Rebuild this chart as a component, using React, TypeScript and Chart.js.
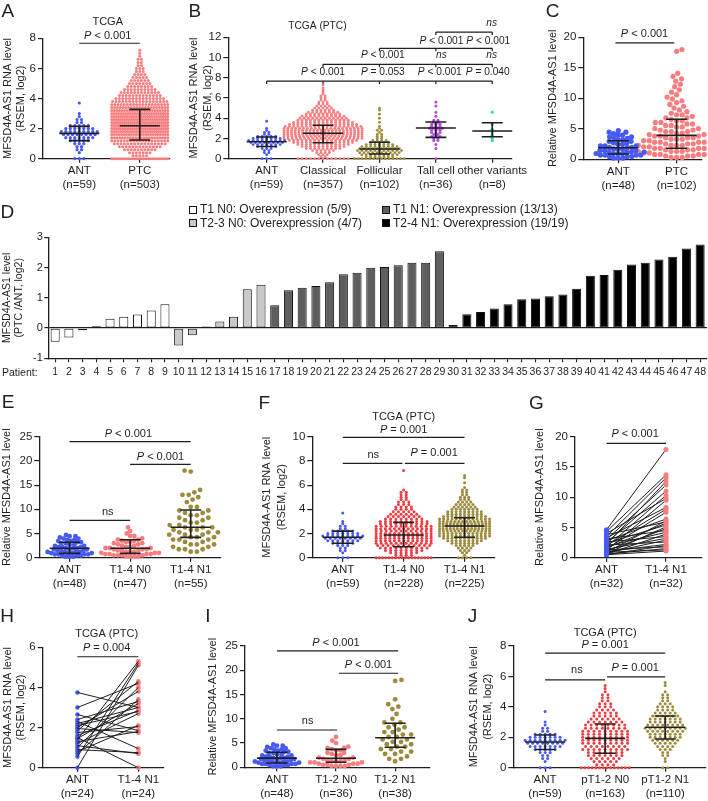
import React, { useEffect, useRef } from 'react';
import { Chart, registerables } from 'chart.js';

Chart.register(...registerables);

const FONT = "'Liberation Sans', Arial, Helvetica, sans-serif";
const NARROW_FONT = "'Liberation Sans Narrow', 'Arial Narrow', 'Liberation Sans', Arial, sans-serif";
const INK = '#1e1e1e';
Chart.defaults.font.family = FONT;
Chart.defaults.color = INK;

const BLUE = '#4659f3';
const SALMON = '#f77d7f';
const RED = '#ee3c42';
const OLIVE = '#9c8b3c';
const PURPLE = '#b24ae0';
const TEAL = '#3ed9a2';

type Bin = [number, number];

// ---------- value bins [value, count] ----------
const tcgaAntBins: Bin[] = [[0, 3], [0.4, 1], [0.6, 2], [0.8, 2], [1.0, 3], [1.2, 5], [1.4, 7], [1.6, 8], [1.8, 9], [2.0, 7], [2.2, 5], [2.4, 2], [2.6, 2], [2.8, 1], [3.0, 1], [3.7, 1]];
const aPtcBins: Bin[] = [[0, 24], [0.2, 5], [0.4, 7], [0.6, 10], [0.8, 13], [1.0, 16], [1.2, 19], [1.4, 22], [1.6, 24], [1.8, 26], [2.0, 28], [2.2, 28], [2.4, 28], [2.6, 27], [2.8, 26], [3.0, 25], [3.2, 23], [3.4, 21], [3.6, 19], [3.8, 17], [4.0, 15], [4.2, 13], [4.4, 12], [4.6, 10], [4.8, 8], [5.0, 7], [5.2, 6], [5.4, 5], [5.6, 4], [5.8, 3], [6.0, 3], [6.2, 2], [6.4, 2], [6.6, 2], [6.8, 1], [7.0, 1], [7.2, 1]];
const bClassicalBins: Bin[] = [[0, 13], [0.2, 2], [0.4, 3], [0.6, 4], [0.8, 6], [1.0, 9], [1.2, 11], [1.4, 13], [1.6, 15], [1.8, 17], [2.0, 20], [2.2, 21], [2.4, 22], [2.6, 22], [2.8, 22], [3.0, 21], [3.2, 19], [3.4, 17], [3.6, 15], [3.8, 13], [4.0, 12], [4.2, 11], [4.4, 9], [4.6, 8], [4.8, 6], [5.0, 5], [5.2, 4], [5.4, 3], [5.6, 3], [5.8, 2], [6.0, 2], [6.2, 2], [6.4, 1], [6.6, 1], [6.8, 1], [7.0, 1], [7.3, 1]];
const bFollicularBins: Bin[] = [[0, 14], [0.2, 7], [0.4, 9], [0.6, 10], [0.8, 11], [1.0, 10], [1.2, 9], [1.4, 7], [1.6, 5], [1.8, 4], [2.0, 2], [2.2, 2], [2.4, 2], [2.6, 1], [2.8, 2], [3.0, 1], [3.2, 1], [3.6, 1], [4.0, 1], [4.4, 1], [4.8, 1], [5.0, 1]];
const bTallBins: Bin[] = [[0, 1], [1.0, 1], [1.4, 1], [1.8, 2], [2.0, 2], [2.2, 3], [2.4, 2], [2.6, 3], [2.8, 3], [3.0, 4], [3.2, 3], [3.4, 3], [3.6, 2], [3.8, 2], [4.2, 1], [4.6, 1], [5.2, 1], [5.6, 1]];
const bOtherValues: number[] = [4.6, 3.4, 2.9, 2.8, 2.6, 2.3, 2.0, 1.8];
const qpcrAntBins: Bin[] = [[0.2, 3], [0.45, 3], [0.7, 4], [0.95, 4], [1.2, 4], [1.45, 3], [1.7, 3], [1.95, 3], [2.2, 3], [2.45, 2], [2.7, 2], [2.95, 2], [3.2, 2], [3.45, 2], [3.7, 2], [3.95, 2], [4.2, 1], [4.45, 2], [4.7, 1]];
const cPtcBins: Bin[] = [[0.3, 3], [0.55, 3], [0.8, 4], [1.05, 4], [1.3, 4], [1.55, 4], [1.8, 4], [2.05, 4], [2.3, 4], [2.55, 3], [2.8, 4], [3.05, 3], [3.3, 3], [3.55, 3], [3.8, 3], [4.05, 3], [4.3, 2], [4.55, 3], [4.8, 2], [5.05, 2], [5.3, 2], [5.55, 2], [5.8, 2], [6.05, 2], [6.3, 2], [6.55, 1], [6.8, 2], [7.05, 1], [7.3, 2], [7.55, 1], [7.8, 1], [8.1, 1], [8.4, 1], [8.7, 1], [9.0, 1], [9.3, 1], [9.6, 1], [9.9, 1], [10.2, 1], [10.6, 1], [11.0, 1], [11.4, 1], [11.9, 1], [12.3, 1], [12.8, 1], [13.2, 1], [13.6, 1], [14.1, 1], [17.7, 1], [18.0, 1]];
const eN0Bins: Bin[] = [[0.25, 4], [0.5, 4], [0.75, 4], [1.0, 3], [1.25, 3], [1.5, 3], [1.75, 3], [2.0, 3], [2.25, 2], [2.5, 2], [2.75, 2], [3.0, 2], [3.25, 2], [3.5, 2], [3.75, 2], [4.0, 1], [4.5, 2], [5.0, 1], [5.5, 1], [6.25, 1]];
const eN1Bins: Bin[] = [[1.25, 2], [1.75, 3], [2.25, 2], [2.75, 3], [3.25, 2], [3.75, 3], [4.25, 3], [4.75, 3], [5.25, 3], [5.75, 3], [6.25, 3], [6.75, 2], [7.25, 2], [7.75, 2], [8.25, 2], [8.75, 2], [9.25, 2], [9.75, 2], [10.5, 2], [11.5, 1], [12.0, 1], [12.5, 1], [13.0, 2], [13.5, 1], [14.0, 1], [17.8, 1], [18.0, 1]];
const fN0Bins: Bin[] = [[0, 18], [0.2, 4], [0.4, 6], [0.6, 8], [0.8, 10], [1.0, 11], [1.2, 12], [1.4, 13], [1.6, 13], [1.8, 13], [2.0, 13], [2.2, 12], [2.4, 13], [2.6, 12], [2.8, 10], [3.0, 10], [3.2, 8], [3.4, 7], [3.6, 6], [3.8, 5], [4.0, 4], [4.2, 4], [4.4, 3], [4.6, 3], [4.8, 2], [5.0, 2], [5.2, 2], [5.4, 2], [5.6, 1], [7.2, 1]];
const fN1Bins: Bin[] = [[0, 4], [0.2, 1], [0.4, 2], [0.6, 3], [0.8, 4], [1.0, 5], [1.2, 7], [1.4, 9], [1.6, 11], [1.8, 13], [2.0, 13], [2.2, 14], [2.4, 15], [2.6, 15], [2.8, 15], [3.0, 14], [3.2, 13], [3.4, 11], [3.6, 9], [3.8, 9], [4.0, 7], [4.2, 6], [4.4, 5], [4.6, 4], [4.8, 3], [5.0, 3], [5.2, 2], [5.4, 2], [5.6, 2], [5.8, 1], [6.2, 1], [6.6, 1], [6.8, 1]];
const iN0Bins: Bin[] = [[0.25, 4], [0.5, 3], [0.75, 3], [1.0, 3], [1.25, 3], [1.5, 2], [1.75, 2], [2.0, 2], [2.5, 2], [2.75, 1], [3.0, 2], [3.5, 2], [3.75, 1], [4.0, 2], [4.25, 1], [5.0, 1], [5.5, 1], [6.25, 1]];
const iN1Bins: Bin[] = [[1.25, 1], [1.75, 2], [2.25, 1], [2.75, 2], [3.25, 2], [3.75, 2], [4.25, 2], [4.75, 2], [5.25, 2], [5.75, 2], [6.25, 2], [6.75, 2], [7.25, 2], [7.75, 1], [8.25, 2], [8.75, 1], [9.25, 2], [10.0, 1], [11.0, 1], [12.0, 1], [12.5, 1], [13.0, 1], [14.0, 1], [17.8, 1], [18.0, 1]];
const jN0Bins: Bin[] = [[0, 14], [0.2, 4], [0.4, 5], [0.6, 6], [0.8, 7], [1.0, 7], [1.2, 9], [1.4, 8], [1.6, 9], [1.8, 9], [2.0, 9], [2.2, 9], [2.4, 9], [2.6, 8], [2.8, 8], [3.0, 7], [3.2, 6], [3.4, 5], [3.6, 5], [3.8, 4], [4.0, 3], [4.2, 3], [4.4, 2], [4.6, 2], [4.8, 2], [5.0, 1], [5.2, 1], [5.4, 1]];
const jN1Bins: Bin[] = [[0, 2], [0.4, 1], [0.6, 1], [0.8, 2], [1.0, 2], [1.2, 3], [1.4, 4], [1.6, 5], [1.8, 6], [2.0, 7], [2.2, 7], [2.4, 8], [2.6, 9], [2.8, 8], [3.0, 7], [3.2, 7], [3.4, 6], [3.6, 5], [3.8, 4], [4.0, 4], [4.2, 3], [4.4, 2], [4.6, 2], [4.8, 2], [5.0, 1], [5.4, 1], [5.6, 1]];

// paired samples (G, H)
const gAnt: number[] = [4.6, 4.3, 3.5, 2.2, 3.0, 2.5, 1.8, 4.0, 1.2, 3.3, 2.0, 1.5, 2.8, 0.9, 3.8, 1.6, 2.4, 0.7, 1.1, 3.1, 1.9, 0.6, 2.6, 1.4, 0.8, 2.1, 1.0, 0.5, 1.3, 0.6, 0.9, 0.5];
const gN1: number[] = [17.9, 13.7, 13.2, 12.6, 12.0, 11.0, 10.3, 9.8, 9.5, 8.3, 8.0, 7.5, 6.4, 6.1, 5.9, 5.7, 5.4, 5.1, 4.8, 4.5, 4.2, 3.9, 3.5, 3.2, 2.9, 2.6, 2.2, 2.0, 1.8, 1.5, 1.3, 1.1];
const hAnt: number[] = [3.75, 3.0, 2.65, 2.4, 2.3, 2.2, 2.1, 2.0, 1.95, 1.85, 1.75, 1.6, 1.5, 1.45, 1.4, 1.3, 1.2, 1.1, 1.0, 0.8, 0.7, 0.55, 0.9, 0.0];
const hN1: number[] = [3.0, 4.2, 1.85, 3.3, 0.95, 3.0, 2.8, 3.8, 1.75, 4.3, 2.05, 2.85, 0.0, 3.2, 5.3, 1.8, 2.7, 0.7, 4.0, 2.1, 3.4, 5.2, 0.75, 5.1];

// summary lines [centre, lower, upper]
const barsA = [[1.68, 1.2, 2.15], [2.19, 1.24, 3.28]];
const barsB = [[1.68, 1.2, 2.15], [2.51, 1.58, 3.3], [0.96, 0.46, 1.62], [3.03, 2.11, 3.63], [2.74, 2.17, 3.56]];
const barsC = [[1.9, 0.87, 3.05], [3.93, 1.8, 6.56]];
const barsE = [[1.94, 0.9, 3.18], [1.94, 0.9, 3.72], [6.28, 4.2, 9.86]];
const barsF = [[1.69, 1.19, 2.2], [1.87, 0.9, 2.92], [2.62, 1.69, 3.3]];
const barsI = [[1.9, 0.9, 3.1], [1.85, 1.03, 3.7], [6.1, 4.12, 9.07]];
const barsJ = [[1.69, 1.2, 2.15], [1.93, 0.95, 2.87], [2.66, 1.89, 3.4]];

// category labels
const catsA = [['ANT', '(n=59)'], ['PTC', '(n=503)']];
const catsB = [['ANT', '(n=59)'], ['Classical', '(n=357)'], ['Follicular', '(n=102)'], ['Tall cell', '(n=36)'], ['other variants', '(n=8)']];
const catsC = [['ANT', '(n=48)'], ['PTC', '(n=102)']];
const catsE = [['ANT', '(n=48)'], ['T1-4 N0', '(n=47)'], ['T1-4 N1', '(n=55)']];
const catsF = [['ANT', '(n=59)'], ['T1-4 N0', '(n=228)'], ['T1-4 N1', '(n=225)']];
const catsG = [['ANT', '(n=32)'], ['T1-4 N1', '(n=32)']];
const catsH = [['ANT', '(n=24)'], ['T1-4 N1', '(n=24)']];
const catsI = [['ANT', '(n=48)'], ['T1-2 N0', '(n=36)'], ['T1-2 N1', '(n=38)']];
const catsJ = [['ANT', '(n=59)'], ['pT1-2 N0', '(n=163)'], ['pT1-2 N1', '(n=110)']];

// panel D: log2 ratio PTC/ANT per patient, by group
const dT1N0: number[] = [-0.45, -0.31, -0.07, 0.06, 0.31, 0.37, 0.45, 0.58, 0.79];
const dT23N0: number[] = [-0.58, -0.24, 0.05, 0.22, 0.37, 1.28, 1.43];
const dT1N1: number[] = [0.75, 1.25, 1.33, 1.39, 1.51, 1.78, 1.83, 1.99, 2.02, 2.08, 2.16, 2.16, 2.54];
const dT24N1: number[] = [0.1, 0.46, 0.53, 0.65, 0.79, 0.95, 0.98, 1.05, 1.11, 1.3, 1.73, 1.75, 1.93, 2.1, 2.16, 2.27, 2.36, 2.63, 2.76];
const dPatients: string[] = ['1', '2', '3', '4', '5', '6', '7', '8', '9', '10', '11', '12', '13', '14', '15', '16', '17', '18', '19', '20', '21', '22', '23', '24', '25', '26', '27', '28', '29', '30', '31', '32', '33', '34', '35', '36', '37', '38', '39', '40', '41', '42', '43', '44', '45', '46', '47', '48'];
const dLegend: string[] = ['T1 N0: Overexpression (5/9)', 'T2-3 N0: Overexpression (4/7)', 'T1 N1: Overexpression (13/13)', 'T2-4 N1: Overexpression (19/19)'];
const dColors: string[] = ['#ffffff', '#c9c9c9', '#5e5e5e', '#000000'];

// ---------- helpers ----------
function expand(bins: Bin[]): number[] {
  const out: number[] = [];
  bins.forEach(([v, n]) => { for (let i = 0; i < n; i++) out.push(v); });
  return out;
}

function rowOffsets(values: number[], s: number, maxW: number): number[] {
  const totals = new Map<number, number>();
  values.forEach((v) => totals.set(v, (totals.get(v) || 0) + 1));
  const seen = new Map<number, number>();
  return values.map((v) => {
    const n = totals.get(v) as number;
    const k = seen.get(v) || 0;
    seen.set(v, k + 1);
    const sp = n > 1 ? Math.min(s, maxW / (n - 1)) : 0;
    return (k - (n - 1) / 2) * sp;
  });
}

function swarmOffsets(py: number[], d: number): number[] {
  const order = py.map((_, i) => i).sort((a, b) => py[b] - py[a] || a - b);
  const placed: { x: number; y: number }[] = [];
  const xs = new Array(py.length).fill(0);
  let flip = 1;
  for (const i of order) {
    const y = py[i];
    const near = placed.filter((p) => Math.abs(p.y - y) < d);
    const cands = [0];
    near.forEach((p) => {
      const dx = Math.sqrt(d * d - (p.y - y) * (p.y - y));
      cands.push(p.x + dx, p.x - dx);
    });
    cands.sort((a, b) => Math.abs(a) - Math.abs(b) || (a - b) * flip);
    let best = 0;
    for (const c of cands) {
      if (near.every((p) => (p.x - c) * (p.x - c) + (p.y - y) * (p.y - y) >= d * d - 1e-6)) { best = c; break; }
    }
    flip = -flip;
    xs[i] = best;
    placed.push({ x: best, y });
  }
  return xs;
}

function drawLabel(ctx: CanvasRenderingContext2D, text: string, cx: number, y: number, size: number, italicNs: boolean) {
  let parts: [string, boolean][];
  if (text.startsWith('P ')) parts = [['P', true], [text.slice(1), false]];
  else if (text === 'ns' && italicNs) parts = [['ns', true]];
  else parts = [[text, false]];
  const fonts = parts.map(([, it]) => `${it ? 'italic ' : ''}${size}px ${FONT}`);
  let total = 0;
  const ws = parts.map(([s], i) => { ctx.font = fonts[i]; const w = ctx.measureText(s).width; total += w; return w; });
  let x = cx - total / 2;
  ctx.textAlign = 'left';
  ctx.textBaseline = 'alphabetic';
  ctx.fillStyle = INK;
  parts.forEach(([s], i) => { ctx.font = fonts[i]; ctx.fillText(s, x, y); x += ws[i]; });
}

function decorPlugin(spec: any) {
  return {
    id: 'decor',
    afterDatasetsDraw(chart: any) {
      const ctx = chart.ctx as CanvasRenderingContext2D;
      const xs = chart.scales.x;
      const ys = chart.scales.y;
      ctx.save();
      ctx.strokeStyle = INK;
      spec.groups.forEach((g: any, gi: number) => {
        if (!g.bar) return;
        const cx = xs.getPixelForValue(gi);
        const m = ys.getPixelForValue(g.bar[0]);
        const lo = ys.getPixelForValue(g.bar[1]);
        const hi = ys.getPixelForValue(g.bar[2]);
        ctx.lineWidth = 1.6;
        ctx.beginPath();
        ctx.moveTo(cx - 20, m); ctx.lineTo(cx + 20, m);
        ctx.moveTo(cx, lo); ctx.lineTo(cx, hi);
        ctx.moveTo(cx - 10.5, lo); ctx.lineTo(cx + 10.5, lo);
        ctx.moveTo(cx - 10.5, hi); ctx.lineTo(cx + 10.5, hi);
        ctx.stroke();
      });
      ctx.lineWidth = 1.2;
      (spec.lines || []).forEach((l: any) => {
        const y = ys.getPixelForValue(l.y);
        ctx.beginPath();
        ctx.moveTo(xs.getPixelForValue(l.a), y);
        ctx.lineTo(xs.getPixelForValue(l.b), y);
        (l.ticks || []).forEach((t: number) => {
          const x = xs.getPixelForValue(t);
          ctx.moveTo(x, y); ctx.lineTo(x, y + 3);
        });
        ctx.stroke();
      });
      (spec.texts || []).forEach((t: any) => drawLabel(ctx, t.t, xs.getPixelForValue(t.x), ys.getPixelForValue(t.y), spec.textSize || 11, !!spec.italicNs));
      ctx.restore();
    },
  };
}

function makeDotChart(canvas: HTMLCanvasElement, spec: any) {
  const { box, area } = spec;
  const yW = area.x0 - box.left;
  const xH = box.top + box.height - area.yBottom;
  const cats = spec.groups.map((g: any) => g.cat);
  const datasets: any[] = spec.groups.map((g: any, gi: number) => ({
    data: g.values.map((v: number) => ({ x: gi, y: v })),
    backgroundColor: g.color,
    borderWidth: 0,
    pointRadius: g.r,
    pointHoverRadius: g.r,
    clip: false,
    order: 0,
  }));
  if (spec.pairs) {
    const ga = spec.groups[0];
    const gb = spec.groups[1];
    ga.values.forEach((v: number, i: number) => {
      datasets.push({
        data: [{ x: 0, y: v }, { x: 1, y: gb.values[i] }],
        showLine: true,
        pointRadius: 0,
        borderColor: INK,
        borderWidth: 1,
        clip: false,
        order: spec.linesOnTop ? -1 : 1,
      });
    });
  }
  const chart = new Chart(canvas, {
    type: 'scatter',
    data: { datasets },
    options: {
      responsive: false,
      animation: false,
      events: [],
      layout: { padding: { left: 0, right: box.left + box.width - area.x1, top: area.yTop - box.top, bottom: 0 }, autoPadding: false },
      plugins: { legend: { display: false }, tooltip: { enabled: false } },
      scales: {
        x: {
          type: 'linear',
          min: spec.x.min,
          max: spec.x.max,
          afterBuildTicks: (s: any) => { s.ticks = cats.map((_: any, i: number) => ({ value: i })); },
          afterFit: (s: any) => { s.height = xH; s.paddingLeft = 0; s.paddingRight = 0; },
          ticks: { callback: (_v: any, i: number) => cats[i], autoSkip: false, maxRotation: 0, minRotation: 0, padding: 1.5, color: INK, font: { size: 11.5, lineHeight: 1.2 } },
          grid: { drawOnChartArea: false, drawTicks: true, tickLength: 4, color: INK, lineWidth: 1.2 },
          border: { display: true, color: INK, width: 1.3 },
        },
        y: {
          type: 'linear',
          min: spec.y.min,
          max: spec.y.max,
          afterFit: (s: any) => { s.width = yW; s.paddingTop = 0; s.paddingBottom = 0; },
          ticks: { stepSize: spec.y.step, padding: 2, color: INK, font: { size: 11.5 } },
          grid: { drawOnChartArea: false, drawTicks: true, tickLength: 5, color: INK, lineWidth: 1.2 },
          border: { display: true, color: INK, width: 1.3 },
          title: {
            display: true,
            text: spec.title.lines,
            color: INK,
            font: { size: 11, lineHeight: spec.title.lh / 11 },
            padding: { top: spec.title.x - box.left - spec.title.lh / 2, bottom: 0 },
          },
        },
      },
    } as any,
    plugins: [decorPlugin(spec)],
  });
  const xs: any = chart.scales.x;
  const ys: any = chart.scales.y;
  const pxPerX = xs.getPixelForValue(1) - xs.getPixelForValue(0);
  spec.groups.forEach((g: any, gi: number) => {
    let off: number[];
    if (g.mode === 'swarm') off = swarmOffsets(g.values.map((v: number) => ys.getPixelForValue(v)), g.d);
    else if (g.mode === 'rows') off = rowOffsets(g.values, g.s, g.maxW);
    else off = g.values.map(() => 0);
    (chart.data.datasets[gi].data as any[]).forEach((p: any, i: number) => { p.x = gi + off[i] / pxPerX; });
  });
  chart.update('none');
  return chart;
}

// ---------- panel specs ----------
const TCGA_ANT = expand(tcgaAntBins);
const QPCR_ANT = expand(qpcrAntBins);

const specA = {
  box: { left: 0, top: 0, width: 200, height: 200 },
  area: { x0: 43, x1: 170, yTop: 38.3, yBottom: 158.7 },
  y: { min: 0, max: 8, step: 2 }, x: { min: -0.6, max: 1.5 },
  title: { lines: ['MFSD4A-AS1 RNA level', '(RSEM, log2)'], x: 7.5, lh: 13.5 },
  groups: [
    { cat: catsA[0], values: TCGA_ANT, color: BLUE, r: 1.6, mode: 'rows', s: 4.5, maxW: 36, bar: barsA[0] },
    { cat: catsA[1], values: expand(aPtcBins), color: SALMON, r: 1.5, mode: 'rows', s: 3.4, maxW: 56, bar: barsA[1] },
  ],
  lines: [{ a: 0, b: 1, y: 7.67 }],
  texts: [{ x: 0.47, y: 8.88, t: 'TCGA' }, { x: 0.47, y: 7.95, t: 'P < 0.001' }],
};

const specB = {
  box: { left: 183, top: 0, width: 362, height: 200 },
  area: { x0: 228.3, x1: 512, yTop: 37.3, yBottom: 158.7 },
  y: { min: 0, max: 12, step: 2 }, x: { min: -0.68, max: 4.35 },
  title: { lines: ['MFSD4A-AS1 RNA level', '(RSEM, log2)'], x: 194, lh: 14.3 },
  italicNs: true,
  textSize: 10.2,
  groups: [
    { cat: catsB[0], values: TCGA_ANT, color: BLUE, r: 1.4, mode: 'rows', s: 4.5, maxW: 38, bar: barsB[0] },
    { cat: catsB[1], values: expand(bClassicalBins), color: SALMON, r: 1.4, mode: 'rows', s: 4.2, maxW: 78, bar: barsB[1] },
    { cat: catsB[2], values: expand(bFollicularBins), color: OLIVE, r: 1.4, mode: 'rows', s: 4.4, maxW: 50, bar: barsB[2] },
    { cat: catsB[3], values: expand(bTallBins), color: PURPLE, r: 1.5, mode: 'rows', s: 4.2, maxW: 40, bar: barsB[3] },
    { cat: catsB[4], values: bOtherValues, color: TEAL, r: 1.6, mode: 'rows', s: 4, maxW: 40, bar: barsB[4] },
  ],
  lines: [
    { a: 0, b: 4, y: 7.67, ticks: [0, 1, 2, 3, 4] },
    { a: 1, b: 4, y: 9.33, ticks: [1, 2, 3, 4] },
    { a: 2, b: 4, y: 10.91, ticks: [2, 3, 4] },
    { a: 3, b: 4, y: 12.52, ticks: [3, 4] },
  ],
  texts: [
    { x: 0.9, y: 12.82, t: 'TCGA (PTC)' },
    { x: 1.0, y: 8.3, t: 'P < 0.001' }, { x: 2.06, y: 8.3, t: 'P = 0.053' }, { x: 3.07, y: 8.3, t: 'P < 0.001' }, { x: 3.92, y: 8.3, t: 'P = 0.040' },
    { x: 2.06, y: 9.92, t: 'P < 0.001' }, { x: 3.1, y: 9.92, t: 'ns' }, { x: 3.99, y: 9.92, t: 'ns' },
    { x: 3.1, y: 11.37, t: 'P < 0.001' }, { x: 3.93, y: 11.37, t: 'P < 0.001' },
    { x: 3.99, y: 13.14, t: 'ns' },
  ],
};

const specC = {
  box: { left: 540, top: 0, width: 168, height: 200 },
  area: { x0: 583.3, x1: 701.7, yTop: 37.3, yBottom: 159.3 },
  y: { min: 0, max: 20, step: 5 }, x: { min: -0.6, max: 1.43 },
  title: { lines: ['Relative MFSD4A-AS1 level'], x: 553, lh: 13.2 },
  groups: [
    { cat: catsC[0], values: QPCR_ANT, color: BLUE, r: 2.6, mode: 'swarm', d: 4.6, bar: barsC[0] },
    { cat: catsC[1], values: expand(cPtcBins), color: SALMON, r: 2.6, mode: 'swarm', d: 5.6, bar: barsC[1] },
  ],
  lines: [{ a: -0.05, b: 0.96, y: 19.1 }],
  texts: [{ x: 0.45, y: 20.0, t: 'P < 0.001' }],
};

const specE = {
  box: { left: 0, top: 390, width: 235, height: 210 },
  area: { x0: 39.3, x1: 221, yTop: 436.7, yBottom: 557.7 },
  y: { min: 0, max: 25, step: 5 }, x: { min: -0.5, max: 2.5 },
  title: { lines: ['Relative MFSD4A-AS1 level'], x: 6.9, lh: 13.2 },
  groups: [
    { cat: catsE[0], values: QPCR_ANT, color: BLUE, r: 2.4, mode: 'swarm', d: 3.8, bar: barsE[0] },
    { cat: catsE[1], values: expand(eN0Bins), color: SALMON, r: 2.4, mode: 'swarm', d: 4.2, bar: barsE[1] },
    { cat: catsE[2], values: expand(eN1Bins), color: OLIVE, r: 2.4, mode: 'swarm', d: 6.2, bar: barsE[2] },
  ],
  lines: [{ a: 0, b: 2, y: 23.97 }, { a: 1, b: 2, y: 19.3 }, { a: 0, b: 1, y: 7.73 }],
  texts: [{ x: 0.97, y: 24.88, t: 'P < 0.001' }, { x: 1.5, y: 20.25, t: 'P < 0.001' }, { x: 0.63, y: 8.76, t: 'ns' }],
};

const specF = {
  box: { left: 235, top: 390, width: 265, height: 210 },
  area: { x0: 312.3, x1: 495, yTop: 436.7, yBottom: 557.7 },
  y: { min: 0, max: 10, step: 2 }, x: { min: -0.5, max: 2.5 },
  title: { lines: ['MFSD4A-AS1 RNA level', '(RSEM, log2)'], x: 267.3, lh: 14.5 },
  groups: [
    { cat: catsF[0], values: TCGA_ANT, color: BLUE, r: 1.5, mode: 'rows', s: 5, maxW: 40, bar: barsF[0] },
    { cat: catsF[1], values: expand(fN0Bins), color: RED, r: 1.5, mode: 'rows', s: 5.2, maxW: 55, bar: barsF[1] },
    { cat: catsF[2], values: expand(fN1Bins), color: OLIVE, r: 1.5, mode: 'rows', s: 4.2, maxW: 50, bar: barsF[2] },
  ],
  lines: [{ a: 0, b: 2, y: 9.95 }, { a: 0, b: 0.98, y: 7.8 }, { a: 1.02, b: 2, y: 7.8 }],
  texts: [{ x: 1, y: 11.4, t: 'TCGA (PTC)' }, { x: 1, y: 10.31, t: 'P = 0.001' }, { x: 0.5, y: 8.24, t: 'ns' }, { x: 1.5, y: 8.43, t: 'P = 0.001' }],
};

const specG = {
  box: { left: 500, top: 390, width: 208, height: 210 },
  area: { x0: 575, x1: 701.7, yTop: 436.7, yBottom: 557.7 },
  y: { min: 0, max: 20, step: 5 }, x: { min: -0.53, max: 1.6 },
  title: { lines: ['Relative MFSD4A-AS1 level'], x: 540, lh: 13.2 },
  pairs: true,
  groups: [
    { cat: catsG[0], values: gAnt, color: BLUE, r: 2.5, mode: 'column' },
    { cat: catsG[1], values: gN1, color: SALMON, r: 2.5, mode: 'column' },
  ],
  lines: [{ a: 0, b: 1, y: 18.9 }],
  texts: [{ x: 0.48, y: 19.9, t: 'P < 0.001' }],
};

const specH = {
  box: { left: 0, top: 600, width: 200, height: 201 },
  area: { x0: 42.7, x1: 163.3, yTop: 647.3, yBottom: 767.7 },
  y: { min: 0, max: 6, step: 2 }, x: { min: -0.57, max: 1.41 },
  title: { lines: ['MFSD4A-AS1 RNA level', '(RSEM, log2)'], x: 7.5, lh: 13.3 },
  pairs: true,
  linesOnTop: true,
  groups: [
    { cat: catsH[0], values: hAnt, color: BLUE, r: 2.2, mode: 'column' },
    { cat: catsH[1], values: hN1, color: SALMON, r: 2.4, mode: 'column' },
  ],
  lines: [{ a: 0, b: 1, y: 5.53 }],
  texts: [{ x: 0.48, y: 6.5, t: 'TCGA (PTC)' }, { x: 0.48, y: 5.83, t: 'P = 0.004' }],
};

const specI = {
  box: { left: 195, top: 600, width: 245, height: 201 },
  area: { x0: 245, x1: 430, yTop: 646, yBottom: 767.3 },
  y: { min: 0, max: 25, step: 5 }, x: { min: -0.54, max: 2.59 },
  title: { lines: ['Relative MFSD4A-AS1 level'], x: 213.3, lh: 13.2 },
  groups: [
    { cat: catsI[0], values: QPCR_ANT, color: BLUE, r: 2.4, mode: 'swarm', d: 3.8, bar: barsI[0] },
    { cat: catsI[1], values: expand(iN0Bins), color: SALMON, r: 2.4, mode: 'swarm', d: 4.4, bar: barsI[1] },
    { cat: catsI[2], values: expand(iN1Bins), color: OLIVE, r: 2.4, mode: 'swarm', d: 6.4, bar: barsI[2] },
  ],
  lines: [{ a: 0, b: 2.05, y: 23.98 }, { a: 1.05, b: 2.05, y: 19.38 }, { a: 0, b: 1.02, y: 7.69 }],
  texts: [{ x: 1.0, y: 25.07, t: 'P < 0.001' }, { x: 1.55, y: 20.47, t: 'P < 0.001' }, { x: 0.52, y: 8.93, t: 'ns' }],
};

const specJ = {
  box: { left: 462, top: 600, width: 246, height: 201 },
  area: { x0: 513.3, x1: 706, yTop: 646, yBottom: 767.7 },
  y: { min: 0, max: 8, step: 2 }, x: { min: -0.53, max: 2.68 },
  title: { lines: ['MFSD4A-AS1 RNA level', '(RSEM, log2)'], x: 474, lh: 13.5 },
  groups: [
    { cat: catsJ[0], values: TCGA_ANT, color: BLUE, r: 1.5, mode: 'rows', s: 5, maxW: 40, bar: barsJ[0] },
    { cat: catsJ[1], values: expand(jN0Bins), color: RED, r: 1.5, mode: 'rows', s: 5.6, maxW: 48, bar: barsJ[1] },
    { cat: catsJ[2], values: expand(jN1Bins), color: OLIVE, r: 1.5, mode: 'rows', s: 5, maxW: 40, bar: barsJ[2] },
  ],
  lines: [{ a: 0, b: 2, y: 7.53 }, { a: 0, b: 1, y: 5.77 }, { a: 1.03, b: 2, y: 5.97 }],
  texts: [{ x: 1, y: 8.68, t: 'TCGA (PTC)' }, { x: 1, y: 7.88, t: 'P = 0.001' }, { x: 0.53, y: 6.23, t: 'ns' }, { x: 1.5, y: 6.38, t: 'P = 0.001' }],
};

const DOT_SPECS = [specA, specB, specC, specE, specF, specG, specH, specI, specJ];

const boxD = { left: 0, top: 200, width: 708, height: 190 };

function makeBarChart(canvas: HTMLCanvasElement) {
  const area = { x0: 48.3, x1: 707, yTop: 237.3, yBottom: 358.3 };
  const groups = [dT1N0, dT23N0, dT1N1, dT24N1];
  let start = 0;
  const datasets = groups.map((vals, gi) => {
    const data: (number | null)[] = dPatients.map(() => null);
    vals.forEach((v, i) => { data[start + i] = v; });
    start += vals.length;
    return {
      label: dLegend[gi],
      data,
      backgroundColor: dColors[gi],
      borderColor: '#111',
      borderWidth: 1,
      borderSkipped: false,
      grouped: false,
      barPercentage: 0.66,
      categoryPercentage: 1,
    };
  });
  const yW = area.x0 - boxD.left;
  const xH = boxD.top + boxD.height - area.yBottom;
  return new Chart(canvas, {
    type: 'bar',
    data: { labels: dPatients, datasets },
    options: {
      responsive: false,
      animation: false,
      events: [],
      layout: { padding: { left: 0, right: boxD.left + boxD.width - area.x1, top: area.yTop - boxD.top, bottom: 0 }, autoPadding: false },
      plugins: { legend: { display: false }, tooltip: { enabled: false } },
      scales: {
        x: {
          type: 'category',
          offset: true,
          afterFit: (s: any) => { s.height = xH; s.paddingLeft = 0; s.paddingRight = 0; },
          ticks: { autoSkip: false, maxRotation: 0, minRotation: 0, padding: 3.5, color: INK, font: { size: 10.5 } },
          grid: { offset: false, drawOnChartArea: false, drawTicks: true, tickLength: 4, color: INK, lineWidth: 1.1 },
          border: { display: true, color: INK, width: 1.3 },
        },
        y: {
          type: 'linear',
          min: -1,
          max: 3,
          afterFit: (s: any) => { s.width = yW; s.paddingTop = 0; s.paddingBottom = 0; },
          ticks: { stepSize: 1, padding: 1.5, color: INK, font: { size: 11 } },
          grid: {
            drawOnChartArea: true,
            drawTicks: true,
            tickLength: 4,
            color: (c: any) => (c.tick && c.tick.value === 0 ? INK : 'rgba(0,0,0,0)'),
            tickColor: INK,
            lineWidth: 1.2,
          },
          border: { display: true, color: INK, width: 1.3 },
          title: {
            display: true,
            text: ['MFSD4A-AS1 level', '(PTC /ANT, log2)'],
            color: INK,
            font: { size: 10.5, lineHeight: 11.7 / 10.5, family: NARROW_FONT },
            padding: { top: 7 - 5.85, bottom: 0 },
          },
        },
      },
    } as any,
  });
}

function ChartBox({ box, make }: { box: any; make: (c: HTMLCanvasElement) => Chart }) {
  const ref = useRef<HTMLCanvasElement>(null);
  useEffect(() => {
    const chart = make(ref.current as HTMLCanvasElement);
    return () => chart.destroy();
  }, [make]);
  return (
    <canvas
      ref={ref}
      width={box.width}
      height={box.height}
      style={{ position: 'absolute', left: box.left, top: box.top, width: box.width, height: box.height }}
    />
  );
}

const dotMakers = DOT_SPECS.map((spec) => (c: HTMLCanvasElement) => makeDotChart(c, spec));

const LETTERS: { t: string; left: number; base: number }[] = [
  { t: 'A', left: 1.5, base: 16.7 },
  { t: 'B', left: 188.5, base: 16.7 },
  { t: 'C', left: 545.8, base: 17 },
  { t: 'D', left: 0.5, base: 218.3 },
  { t: 'E', left: 1.8, base: 408.3 },
  { t: 'F', left: 258.5, base: 409 },
  { t: 'G', left: 529, base: 409.5 },
  { t: 'H', left: 0.2, base: 621.7 },
  { t: 'I', left: 205.2, base: 621.7 },
  { t: 'J', left: 467.8, base: 622.5 },
];

export default function App() {
  const legendPos = [
    { left: 189, cy: 209.5 },
    { left: 189, cy: 223 },
    { left: 382, cy: 209.5 },
    { left: 382, cy: 223 },
  ];
  return (
    <div style={{ position: 'absolute', left: 0, top: 0, width: 708, height: 801, background: '#fff', fontFamily: FONT, color: INK, overflow: 'hidden' }}>
      {DOT_SPECS.map((spec, i) => (
        <ChartBox key={i} box={spec.box} make={dotMakers[i]} />
      ))}
      <ChartBox box={boxD} make={makeBarChart} />
      {LETTERS.map((l) => (
        <div key={l.t} style={{ position: 'absolute', left: l.left, top: l.base - 16.1, fontSize: 19, lineHeight: '19px' }}>{l.t}</div>
      ))}
      {dLegend.map((label, i) => (
        <div key={label} style={{ position: 'absolute', left: legendPos[i].left, top: legendPos[i].cy - 6.5, height: 13, display: 'flex', alignItems: 'center', whiteSpace: 'nowrap', fontSize: 12, lineHeight: '13px' }}>
          <span style={{ display: 'inline-block', width: 8, height: 8, boxSizing: 'border-box', border: '1px solid #111', background: dColors[i], marginRight: 3 }} />
          <span>{label}</span>
        </div>
      ))}
      <div style={{ position: 'absolute', left: 2, top: 366.4, fontSize: 10.5, lineHeight: '12px' }}>Patient:</div>
    </div>
  );
}
